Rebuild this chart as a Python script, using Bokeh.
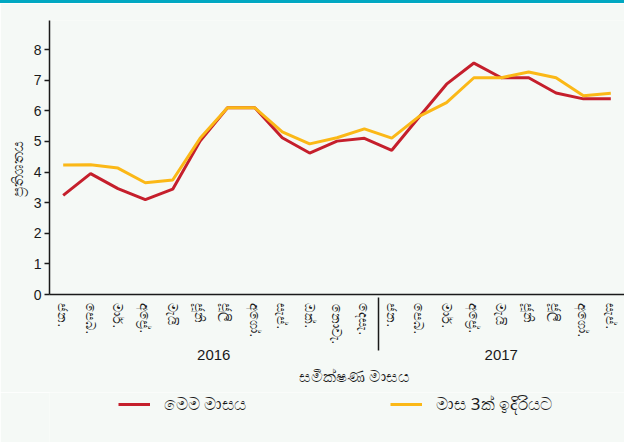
from bokeh.plotting import figure
from bokeh.layouts import column
from bokeh.models import (FactorRange, Range1d, FixedTicker, Legend, LegendItem,
                          Title, ColumnDataSource)
from bokeh.embed import file_html
from bokeh.resources import INLINE

# ---- data ----
years = ["2016", "2017"]
months = ["ජන.", "පෙබ.", "මාර්.", "අප්‍රේ.", "මැයි", "ජූනි", "ජූලි",
          "අගෝ.", "සැප්.", "ඔක්.", "නොවැ.", "දෙසැ."]
months_per_year = [12, 9]
this_month = [3.24, 3.95, 3.46, 3.10, 3.44, 5.01, 6.10, 6.10, 5.12, 4.62, 5.01, 5.10,
              4.71, 5.80, 6.87, 7.56, 7.08, 7.08, 6.58, 6.39, 6.39]
three_months_ahead = [4.23, 4.24, 4.13, 3.65, 3.74, 5.10, 6.10, 6.10, 5.31, 4.92, 5.12, 5.41,
                      5.11, 5.82, 6.27, 7.08, 7.08, 7.27, 7.08, 6.49, 6.57]
y_ticks = [0, 1, 2, 3, 4, 5, 6, 7, 8]
series_labels = ["මෙම මාසය", "මාස 3ක් ඉදිරියට"]
x_title = "සමීක්ෂණ මාසය"
y_title = "ප්‍රතිශතය"

factors = [(y, m) for y, n in zip(years, months_per_year) for m in months[:n]]

BG = "#f5f9f6"
RED = "#c51f2c"
YELLOW = "#fbb817"
INK = "#1a1a1a"
SIN_FONT = "Noto Sans"
NUM_FONT = "Liberation Sans"

src = ColumnDataSource(dict(x=factors, a=this_month, b=three_months_ahead))
x_range = FactorRange(*factors, group_padding=0, subgroup_padding=0, factor_padding=0)

# ---- main chart ----
p = figure(width=624, height=392, title=None,
           x_range=x_range, y_range=Range1d(0, 8.95),
           output_backend="svg", toolbar_location=None,
           min_border_left=49, min_border_right=0, min_border_top=17, min_border_bottom=101,
           background_fill_color=BG, border_fill_color=BG, outline_line_color=None)
p.styles = {"border-top": "3px solid #00a8c2"}

p.xgrid.visible = False
p.ygrid.visible = False

# y axis
ya = p.yaxis[0]
ya.ticker = FixedTicker(ticks=y_ticks)
ya.major_tick_in = 0
ya.major_tick_out = 5
ya.minor_tick_line_color = None
ya.major_tick_line_color = INK
ya.major_tick_line_width = 1.5
ya.axis_line_color = INK
ya.axis_line_width = 1.5
ya.major_label_standoff = 3
ya.major_label_text_font = NUM_FONT
ya.major_label_text_font_size = "14px"
ya.major_label_text_color = INK

# x axis
xa = p.xaxis[0]
xa.major_tick_line_color = None
xa.minor_tick_line_color = None
xa.axis_line_color = INK
xa.axis_line_width = 1.5
xa.major_label_orientation = "vertical"
xa.major_label_text_font = SIN_FONT
xa.major_label_text_font_size = "13px"
xa.major_label_text_color = INK
xa.major_label_standoff = 3
xa.group_text_font = NUM_FONT
xa.group_text_font_size = "15px"
xa.group_text_font_style = "normal"
xa.group_text_color = INK
xa.separator_line_color = INK
xa.separator_line_width = 1.5

r1 = p.line("x", "a", source=src, line_color=RED, line_width=3)
r2 = p.line("x", "b", source=src, line_color=YELLOW, line_width=3)

# axis titles
p.add_layout(Title(text=y_title, align="left", offset=98, text_font=SIN_FONT,
                   text_font_size="15px", text_font_style="normal", text_color=INK,
                   standoff=8), "left")
p.add_layout(Title(text=x_title, align="left", offset=249, text_font=SIN_FONT,
                   text_font_size="16px", text_font_style="normal", text_color=INK,
                   standoff=0), "below")

# ---- legend strip (same series, kept outside its visible y-range) ----
q = figure(width=624, height=50, title=None, x_range=x_range, y_range=Range1d(-2, -1),
           x_axis_location=None, y_axis_location=None,
           output_backend="svg", toolbar_location=None, min_border=0,
           background_fill_color=BG, border_fill_color=BG, outline_line_color=None)
q.grid.visible = False
k1 = q.line("x", "a", source=src, line_color=RED, line_width=3)
k2 = q.line("x", "b", source=src, line_color=YELLOW, line_width=3)

legend = Legend(items=[LegendItem(label=series_labels[0], renderers=[k1]),
                       LegendItem(label=series_labels[1], renderers=[k2])],
                orientation="horizontal", location=(69, 27), spacing=144,
                glyph_width=32, glyph_height=20, label_standoff=14,
                label_text_font=SIN_FONT, label_text_font_size="17px",
                label_text_color=INK, background_fill_alpha=0,
                border_line_color=None, padding=0, margin=0)
q.add_layout(legend, "center")

layout = column(p, q, spacing=0)
open("out.html", "w").write(file_html(layout, INLINE))
